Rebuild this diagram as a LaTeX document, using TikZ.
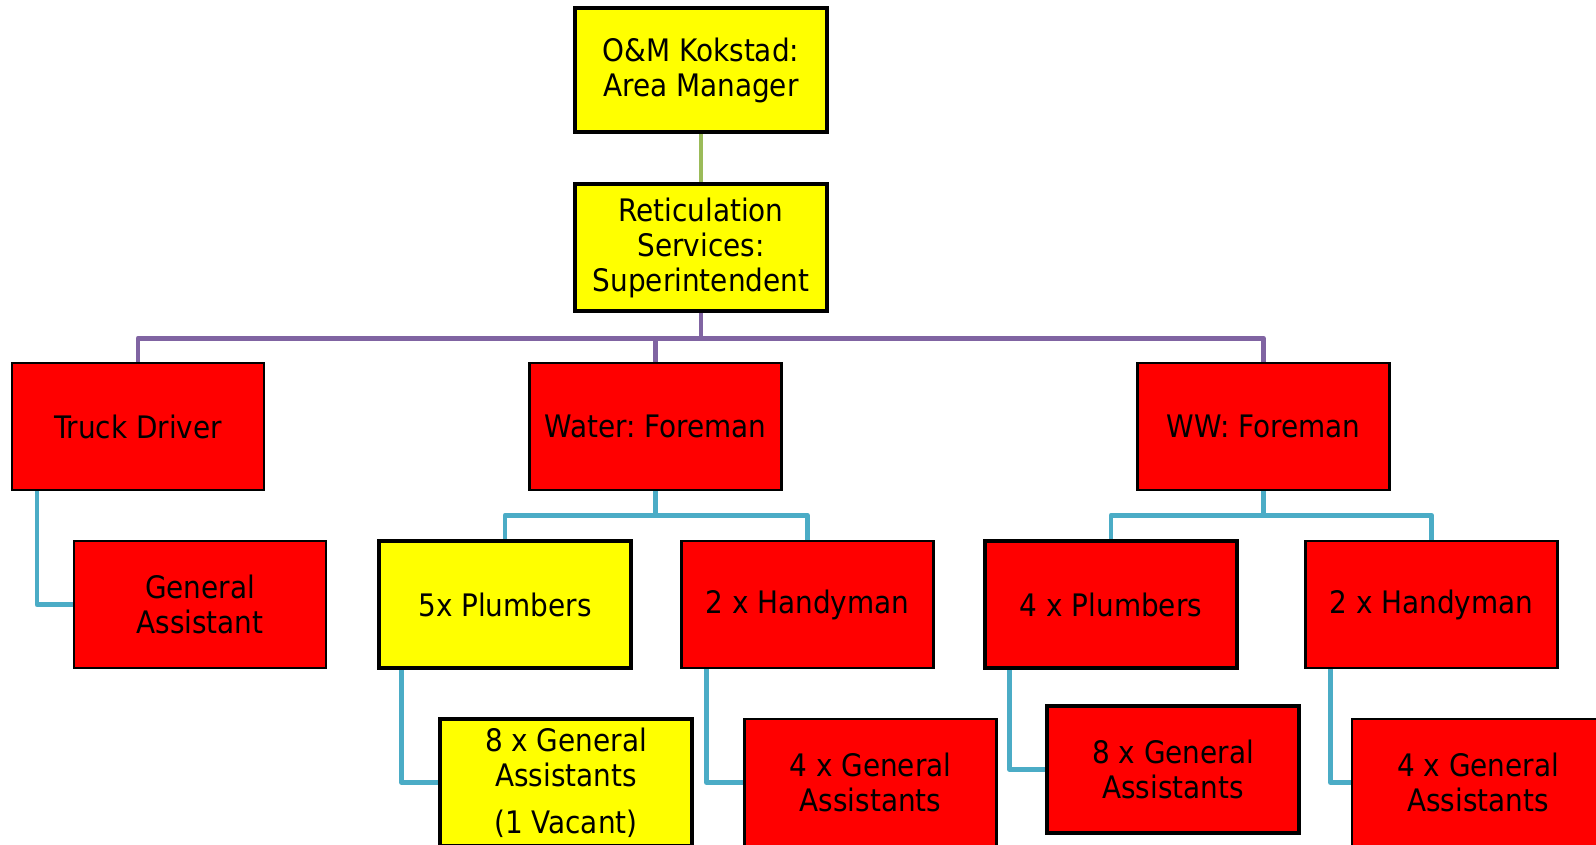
\documentclass[tikz,border=0pt]{standalone}
\usepackage{fontspec}
\setmainfont{DejaVu Sans Condensed}
\usetikzlibrary{backgrounds}
\frenchspacing

\definecolor{linkgreen}{HTML}{9BBB59}
\definecolor{linkpurple}{HTML}{8064A2}
\definecolor{linkcyan}{HTML}{4BACC6}
\definecolor{boxred}{HTML}{FF0000}
\definecolor{boxyellow}{HTML}{FFFF00}

\tikzset{
  unitbox/.style={draw=black, rectangle, align=center, text=black,
    line width=1.1pt, minimum width=126pt, minimum height=63.5pt,
    inner sep=0pt, font=\fontsize{15.5}{17.5}\selectfont},
  redbox/.style={unitbox, fill=boxred},
  yellowbox/.style={unitbox, fill=boxyellow},
  heavy/.style={line width=2.3pt},
  conn/.style={line width=2.4pt, line join=round},
  greenconn/.style={conn, draw=linkgreen},
  purpleconn/.style={conn, draw=linkpurple},
  cyanconn/.style={conn, draw=linkcyan},
}

\begin{document}
\begin{tikzpicture}[x=0.5pt, y=-0.5pt]
\useasboundingbox (0,0) rectangle (1596,845);
\clip (0,0) rectangle (1596,845);

% management chain
\node[yellowbox, heavy, minimum height=62pt] (mgr) at (701,70) {O\&M Kokstad:\\Area Manager};
\node[yellowbox, heavy] (sup) at (701,247.5) {Reticulation\\Services:\\Superintendent};

% foremen and driver
\node[redbox] (truck) at (138,426.5) {Truck Driver};
\node[redbox] (water) at (655.5,426.5) {Water: Foreman};
\node[redbox] (ww) at (1263.5,426.5) {WW: Foreman};

% third level
\node[redbox] (ga) at (200,604.5) {General\\Assistant};
\node[yellowbox, heavy] (plw) at (505,604.5) {5x Plumbers};
\node[redbox] (hmw) at (807.5,604.5) {2 x Handyman};
\node[redbox, heavy] (plww) at (1111,604.5) {4 x Plumbers};
\node[redbox] (hmww) at (1431.5,604.5) {2 x Handyman};

% fourth level
\node[yellowbox, heavy] (gaplw) at (566,782.5) {8 x General\\Assistants\\[6pt](1 Vacant)};
\node[redbox] (gahmw) at (870.5,782.5) {4 x General\\Assistants};
\node[redbox, heavy] (gaplww) at (1173,769.5) {8 x General\\Assistants};
\node[redbox] (gahmww) at (1478,782.5) {4 x General\\Assistants};

\begin{scope}[on background layer]
  \draw[greenconn] (mgr.south) -- (sup.north);

  \draw[purpleconn] (sup.south) -- ++(0,25) -| (truck.north);
  \draw[purpleconn] (sup.south) -- ++(0,25) -| (water.north);
  \draw[purpleconn] (sup.south) -- ++(0,25) -| (ww.north);

  \draw[cyanconn] (water.south) -- ++(0,24) -| (plw.north);
  \draw[cyanconn] (water.south) -- ++(0,24) -| (hmw.north);
  \draw[cyanconn] (ww.south) -- ++(0,24) -| (plww.north);
  \draw[cyanconn] (ww.south) -- ++(0,24) -| (hmww.north);

  \draw[cyanconn] ([xshift=13pt]truck.south west) |- (ga.west);
  \draw[cyanconn] ([xshift=12.5pt]plw.south west) |- (gaplw.west);
  \draw[cyanconn] ([xshift=13pt]hmw.south west) |- (gahmw.west);
  \draw[cyanconn] ([xshift=13.5pt]plww.south west) |- (gaplww.west);
  \draw[cyanconn] ([xshift=13pt]hmww.south west) |- (gahmww.west);
\end{scope}
\end{tikzpicture}
\end{document}
